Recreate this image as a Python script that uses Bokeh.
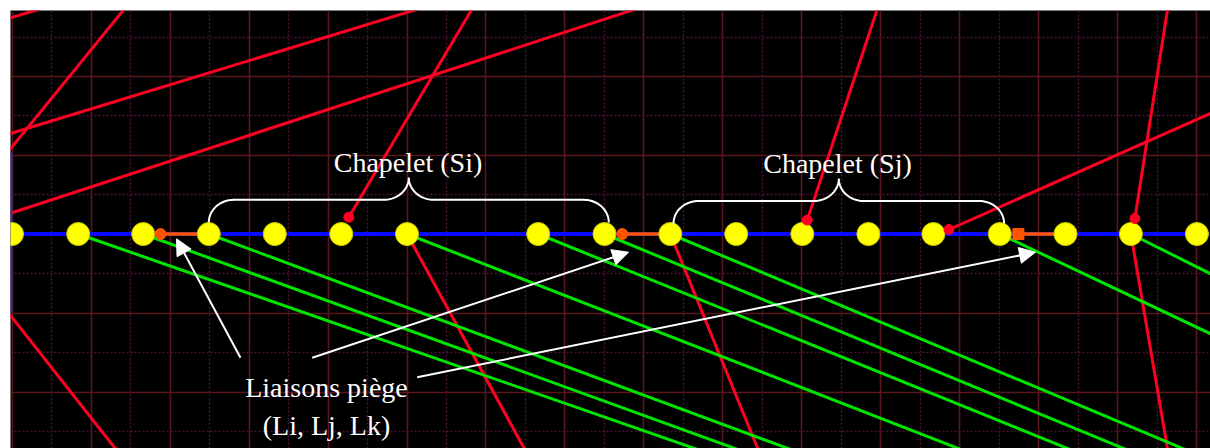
import numpy as np
from bokeh.plotting import figure
from bokeh.models import Range1d, FixedTicker, Grid, Arrow, NormalHead, ColumnDataSource
from bokeh.core.properties import value
from bokeh.embed import file_html
from bokeh.resources import INLINE

# ---------------- data (screen-like units, y grows downward) ----------------
chain_y = 233.5
bead_x = [11.5, 77.7, 142.7, 208.3, 274.3, 340.7, 406.5, 537.7, 604.0, 669.8,
          735.7, 801.8, 867.9, 932.9, 999.3, 1065.0, 1130.4, 1196.4]

# trap links (liaisons piège): orange segment from dot to next bead
link_x0 = [160.0, 621.7, 1017.9]
link_x1 = [208.3, 669.8, 1065.0]
link_marker = ["circle", "circle", "square"]

# red chains (segments)
red_x0 = [0.0, 0.0, 0.0, 0.0, 348.3, 406.5, 669.8, 806.7, 948.5, 1134.4, 1130.4, 0.0]
red_y0 = [20.3, 160.6, 136.0, 216.0, 216.7, 233.5, 233.5, 219.6, 229.0, 218.0, 233.5, 302.3]
red_x1 = [40.0, 126.6, 429.0, 646.0, 473.6, 524.8, 758.0, 878.0, 1215.0, 1167.6, 1167.3, 116.3]
red_y1 = [8.3, 5.0, 5.0, 5.0, 5.0, 450.0, 450.0, 5.0, 110.7, 5.0, 450.0, 450.0]

# red end dots
red_dot_x = [348.3, 806.7, 948.5, 1134.4]
red_dot_y = [216.7, 219.6, 229.0, 218.0]

# green chains (segments starting at beads)
green_x0 = [77.7, 142.7, 208.3, 406.5, 537.7, 604.0, 669.8, 999.3, 1130.4]
green_y0 = [233.5] * 9
green_x1 = [700.0, 740.0, 793.0, 963.0, 1072.0, 1128.0, 1187.0, 1215.0, 1215.0]
green_y1 = [450.0, 450.0, 450.0, 450.0, 450.0, 450.0, 450.0, 335.6, 275.8]

# partly hidden chain at left border
edge_x = [10.5, 10.5]
edge_y = [152.0, 312.0]

# braces: left end, right end, bar level, tip level
brace_left = [208.3, 673.0]
brace_right = [608.3, 1003.6]
brace_end_y = [222.0, 223.0]
brace_bar_y = [199.3, 200.5]
brace_tip_y = [177.0, 178.0]

# labels
label_text = ["Chapelet (Si)", "Chapelet (Sj)", "Liaisons piège", "(Li, Lj, Lk)"]
label_x = [407.5, 837.0, 326.0, 326.0]
label_y = [161.7, 162.5, 386.7, 425.0]

# arrows
arrow_x0 = [240.0, 311.7, 416.7]
arrow_y0 = [357.3, 357.3, 376.7]
arrow_x1 = [176.0, 628.0, 1035.0]
arrow_y1 = [238.3, 251.7, 251.7]

# ---------------- figure ----------------
p = figure(width=1210, height=448, output_backend="svg", toolbar_location=None,
           x_range=Range1d(10, 1210), y_range=Range1d(448, 10),
           x_axis_location=None, y_axis_location=None,
           min_border_left=10, min_border_top=10, min_border_right=0, min_border_bottom=0)
p.background_fill_color = "#000000"
p.border_fill_color = "#ffffff"
p.outline_line_color = None
for g0 in p.grid:
    g0.visible = False

cell = 78.95
major_x = list(11.75 + cell * np.arange(0, 16))
minor_x = list(11.75 + cell * np.arange(0, 16) + cell / 2)
major_y = list(76.0 + cell * np.arange(-1, 6))
minor_y = list(76.0 + cell * np.arange(-1, 6) + cell / 2)

for dim, maj, mnr in ((0, major_x, minor_x), (1, major_y, minor_y)):
    g = Grid(dimension=dim, ticker=FixedTicker(ticks=maj, minor_ticks=mnr),
             grid_line_color="#5a161c", grid_line_width=1.6,
             minor_grid_line_color="#4c1438", minor_grid_line_width=1.4,
             minor_grid_line_dash="2 2")
    p.add_layout(g)

# red chains
p.segment(x0=red_x0, y0=red_y0, x1=red_x1, y1=red_y1, line_color="#ff0022", line_width=3)
# green chains
p.segment(x0=green_x0, y0=green_y0, x1=green_x1, y1=green_y1, line_color="#00e400", line_width=3)
# left border chain
p.line(edge_x, edge_y, line_color="#3b2b8f", line_width=3)

# blue chain
p.line([0, 1215], [chain_y, chain_y], line_color="#0a0aff", line_width=4)
# orange trap links
link_src = ColumnDataSource(dict(x0=link_x0, x1=link_x1, y=[chain_y] * 3, m=link_marker))
p.segment(x0="x0", y0="y", x1="x1", y1="y", source=link_src, line_color="#ff5500", line_width=3.5)

# beads
p.scatter(bead_x, [chain_y] * len(bead_x), size=23, fill_color="#ffff00",
          line_color="#c8c800", line_width=1)

# link dots
p.scatter(x="x0", y="y", marker="m", source=link_src, size=11, fill_color="#ff5500",
          line_color="#ff5500")
# red dots
p.scatter(red_dot_x, red_dot_y, size=10, fill_color="#ff0022", line_color="#ff0022")

# braces
def brace_path(xl, xr, ye, yb, yt):
    xm = 0.5 * (xl + xr)
    rx, ry = 25.0, ye - yb
    rx2, ry2 = 25.0, yb - yt
    t1 = np.linspace(np.pi, np.pi / 2, 20)
    t2 = np.linspace(-np.pi / 2, 0, 20)
    xs = list(xl + rx + rx * np.cos(t1)) + list(xm - rx2 + rx2 * np.cos(t2))
    ys = list(ye - ry * np.sin(t1)) + list(yt - ry2 * np.sin(t2))
    xs_r = [2 * xm - x for x in reversed(xs)]
    ys_r = list(reversed(ys))
    return xs + xs_r, ys + ys_r

bx, by = [], []
for i in range(len(brace_left)):
    xs, ys = brace_path(brace_left[i], brace_right[i], brace_end_y[i], brace_bar_y[i], brace_tip_y[i])
    bx.append(xs)
    by.append(ys)
p.multi_line(bx, by, line_color="#ffffff", line_width=2)

# labels
p.text(x=label_x, y=label_y, text=label_text, text_align="center", text_baseline="alphabetic",
       text_font=value("Liberation Serif"), text_font_size="28px", text_color="#ffffff")

# arrows
arr_src = ColumnDataSource(dict(x0=arrow_x0, y0=arrow_y0, x1=arrow_x1, y1=arrow_y1))
p.add_layout(Arrow(end=NormalHead(size=16, fill_color="#ffffff", line_color="#ffffff", line_width=1),
                   x_start="x0", y_start="y0", x_end="x1", y_end="y1", source=arr_src,
                   line_color="#ffffff", line_width=2))

open("out.html", "w").write(file_html(p, INLINE))
